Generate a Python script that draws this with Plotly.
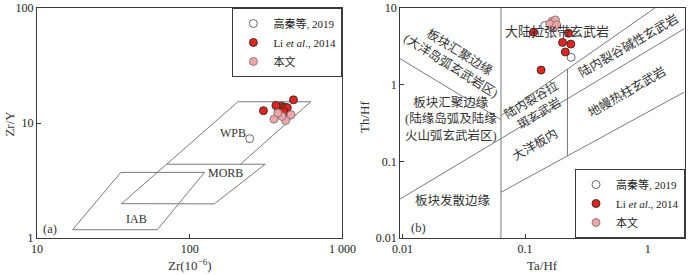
import math
import plotly.graph_objects as go

# ---------------- Panel (a): Zr (10^-6) vs Zr/Y ----------------
a_gao_zr = [247, 406]
a_gao_zry = [7.31, 11.7]
a_li_zr = [304, 478, 379, 399, 419, 436, 414, 367]
a_li_zry = [12.8, 15.9, 13.4, 14.0, 13.7, 13.6, 12.6, 14.2]
a_this_zr = [356, 425, 462, 402, 378]
a_this_zry = [10.8, 10.5, 11.8, 11.4, 12.2]

# field boundaries (Pearce & Norry)
wpb_zr = [35.8, 207, 620, 215]
wpb_zry = [1.99, 15.3, 15.3, 4.38]
morb_zr = [71.2, 312, 145, 35.8]
morb_zry = [4.38, 4.38, 1.98, 1.99]
iab_zr = [35.4, 125, 61.4, 17.1, 35.4]
iab_zry = [3.72, 3.72, 1.18, 1.18, 3.72]

a_xticks = [10, 100, 1000]
a_xticktext = ["10", "100", "1 000"]
a_yticks = [1, 10, 100]
a_yticktext = ["1", "10", "100"]

# ---------------- Panel (b): Ta/Hf vs Th/Hf ----------------
b_gao_ta = [0.1445, 0.2373]
b_gao_th = [5.90, 2.27]
b_li_ta = [0.117, 0.226, 0.202, 0.236, 0.213, 0.135]
b_li_th = [4.84, 4.70, 3.56, 3.38, 2.67, 1.55]
b_this_ta = [0.166, 0.177, 0.171, 0.159, 0.181]
b_this_th = [6.72, 7.0, 5.51, 6.21, 6.0]

# field boundaries
b_v1_ta = [0.0635, 0.0635]
b_v1_th = [0.01, 10]
b_l3_ta = [0.0095, 0.0635]
b_l3_th = [2.19, 0.35]
b_l4_ta = [0.0095, 1.99]
b_l4_th = [0.0321, 5.36]
b_l5_ta = [0.0635, 1.146]
b_l5_th = [0.395, 10]
b_l6_ta = [0.0635, 1.99]
b_l6_th = [0.0395, 0.80]
b_v2_ta_value = 0.2217

b_xticks = [0.01, 0.1, 1]
b_xticktext = ["0.01", "0.1", "1"]
b_yticks = [0.01, 0.1, 1, 10]
b_yticktext = ["0.01", "0.1", "1", "10"]


def log_interp(xs, ys, x):
    lx0, lx1 = math.log10(xs[0]), math.log10(xs[1])
    ly0, ly1 = math.log10(ys[0]), math.log10(ys[1])
    t = (math.log10(x) - lx0) / (lx1 - lx0)
    return 10 ** (ly0 + t * (ly1 - ly0))


b_v2_ta = [b_v2_ta_value, b_v2_ta_value]
b_v2_th = [log_interp(b_l6_ta, b_l6_th, b_v2_ta_value),
           log_interp(b_l5_ta, b_l5_th, b_v2_ta_value)]

FONT = "Liberation Serif, 'Noto Sans CJK SC', serif"
LINE = "#6a6a6a"
AXC = "#3a3a3a"
RED = "#E2231E"
PINK = "#F4A4A6"

W, H = 700, 275
L, R, T, B = 37, 699, 4, 238


def px(x):
    return (x - L) / (R - L)


def py(y):
    return (B - y) / (B - T)


fig = go.Figure()

# ----- panel a boundaries -----
for xs, ys in [(wpb_zr, wpb_zry), (morb_zr, morb_zry), (iab_zr, iab_zry)]:
    fig.add_trace(go.Scatter(x=xs, y=ys, mode="lines", xaxis="x", yaxis="y",
                             line=dict(color=LINE, width=0.9), showlegend=False,
                             hoverinfo="skip"))

# ----- panel b boundaries -----
for xs, ys in [(b_v1_ta, b_v1_th), (b_l3_ta, b_l3_th), (b_l4_ta, b_l4_th),
               (b_l5_ta, b_l5_th), (b_l6_ta, b_l6_th), (b_v2_ta, b_v2_th)]:
    fig.add_trace(go.Scatter(x=xs, y=ys, mode="lines", xaxis="x2", yaxis="y2",
                             line=dict(color=LINE, width=0.9), showlegend=False,
                             hoverinfo="skip"))

MS = 8
styles = [
    ("高秦等, 2019", dict(color="white", size=MS, line=dict(color="#555", width=0.9))),
    ("Li <i>et al</i>., 2014", dict(color=RED, size=MS, line=dict(color="#2a2a2a", width=0.9))),
    ("本文", dict(color=PINK, size=MS, line=dict(color="#777", width=0.9))),
]

a_sets = [(a_gao_zr, a_gao_zry), (a_li_zr, a_li_zry), (a_this_zr, a_this_zry)]
b_sets = [(b_gao_ta, b_gao_th), (b_li_ta, b_li_th), (b_this_ta, b_this_th)]

for (name, mk), (xs, ys) in zip(styles, a_sets):
    fig.add_trace(go.Scatter(x=xs, y=ys, mode="markers", name=name, marker=mk,
                             xaxis="x", yaxis="y", legend="legend"))
for (name, mk), (xs, ys) in zip(styles, b_sets):
    fig.add_trace(go.Scatter(x=xs, y=ys, mode="markers", name=name, marker=mk,
                             xaxis="x2", yaxis="y2", legend="legend2"))

axis_common = dict(type="log", showgrid=False, zeroline=False, showline=True,
                   mirror=True, linecolor=AXC, linewidth=1, ticks="inside",
                   ticklen=4, tickcolor=AXC, tickmode="array",
                   ticklabeloverflow="allow",
                   tickfont=dict(family=FONT, size=12, color="#222"))

fig.update_layout(
    width=W, height=H,
    margin=dict(l=L, r=W - R, t=T, b=H - B),
    paper_bgcolor="white", plot_bgcolor="white",
    font=dict(family=FONT, size=12, color="#222"),
    xaxis=dict(axis_common, domain=[0, px(349)], range=[1, 3],
               tickvals=a_xticks, ticktext=a_xticktext, anchor="y"),
    yaxis=dict(axis_common, domain=[0, 1], range=[0, 2],
               tickvals=a_yticks, ticktext=a_yticktext, anchor="x"),
    xaxis2=dict(axis_common, domain=[px(408), 1], range=[-2.02, 0.305],
                tickvals=b_xticks, ticktext=b_xticktext, anchor="y2"),
    yaxis2=dict(axis_common, domain=[0, 1], range=[-2, 1],
                tickvals=b_yticks, ticktext=b_yticktext, anchor="x2"),
    legend=dict(x=px(349), xanchor="right", y=1, yanchor="top",
                bordercolor=AXC, borderwidth=1, bgcolor="white",
                font=dict(family=FONT, size=11, color="#222"),
                itemwidth=30, tracegroupgap=0),
    legend2=dict(x=1, xanchor="right", y=0, yanchor="bottom",
                 bordercolor=AXC, borderwidth=1, bgcolor="white",
                 font=dict(family=FONT, size=11, color="#222"),
                 itemwidth=30, tracegroupgap=0),
    showlegend=True,
)

ann = []


def add_text(text, x, y, size=12.5, angle=0, align="center"):
    ann.append(dict(text=text, x=px(x), y=py(y), xref="paper", yref="paper",
                    showarrow=False, textangle=angle, align=align,
                    font=dict(family=FONT, size=size, color="#333"),
                    xanchor="center", yanchor="middle"))


# axis titles
add_text("Zr/Y", 9, 122, size=13, angle=-90)
add_text("Zr(10<sup>−6</sup>)", 193, 265, size=13)
add_text("Th/Hf", 371, 115, size=13, angle=-90)
add_text("Ta/Hf", 553, 266, size=13)

# panel a labels
add_text("WPB", 237, 131, size=12)
add_text("MORB", 230, 172, size=12)
add_text("IAB", 139, 219, size=12)
add_text("(a)", 50, 229, size=12.5)

# panel b labels
add_text("大陆拉张带玄武岩", 568, 28, size=13)
add_text("板块汇聚边缘<br>(大洋岛弧玄武岩区)", 464, 56, size=12.5, angle=32)
add_text("板块汇聚边缘<br>(陆缘岛弧及陆缘<br>火山弧玄武岩区)", 460, 117, size=12.5)
add_text("陆内裂谷拉<br>斑玄武岩", 546, 104, size=12, angle=-31)
add_text("陆内裂谷碱性玄武岩", 641, 42, size=12.5, angle=-30)
add_text("地幔热柱玄武岩", 640, 89, size=12.5, angle=-30)
add_text("大洋板内", 546, 143, size=12.5, angle=-30)
add_text("板块发散边缘", 462, 200, size=12.5)
add_text("(b)", 427, 228, size=12.5)

fig.update_layout(annotations=ann)

fig.write_html(
    "out.html",
    config={"displayModeBar": False},
    post_script="document.body.style.margin='0';document.body.style.overflow='hidden';",
)
